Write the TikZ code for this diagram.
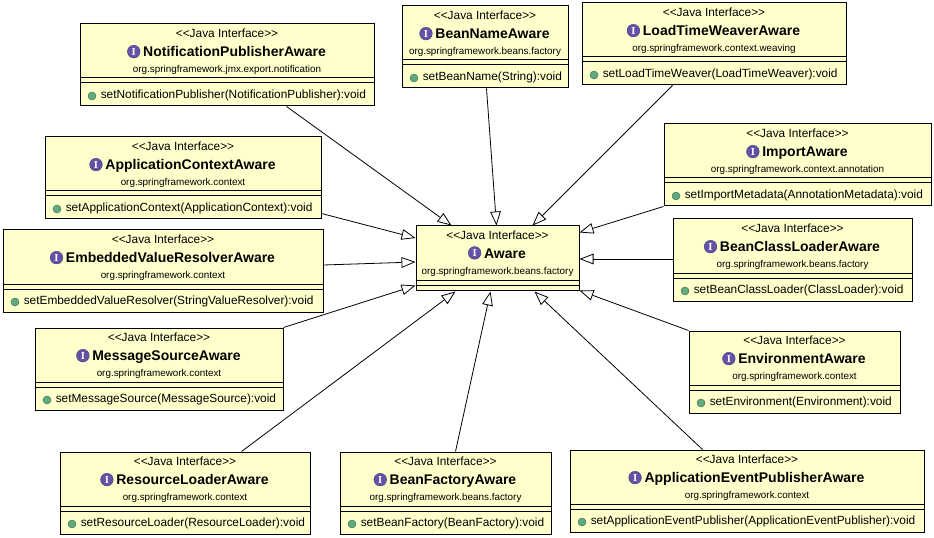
\documentclass[tikz,border=0pt]{standalone}
\usepackage{fontspec}
\setmainfont{Liberation Sans}
\newfontfamily\iconfont{Liberation Serif}
\usetikzlibrary{arrows.meta,shadings}
\definecolor{umlfill}{HTML}{FFFFCC}
\definecolor{ifacecol}{HTML}{6352A8}
\definecolor{methcol}{HTML}{5FAA7E}
\tikzset{
  x=0.75pt,y=-0.75pt,
  umlbody/.style={draw=black,fill=umlfill,line width=0.75pt,inner sep=0pt,rectangle},
  stereo/.style={font=\fontsize{8.9pt}{10pt}\selectfont,inner sep=0pt,anchor=base},
  titletext/.style={font=\fontsize{10.5pt}{12pt}\selectfont\bfseries,inner sep=0pt,anchor=base},
  pkgtext/.style={font=\fontsize{7.4pt}{9pt}\selectfont,inner sep=0pt,anchor=base},
  methtext/.style={font=\fontsize{8.9pt}{10pt}\selectfont,inner sep=0pt,anchor=base west},
  ifaceicon/.style={circle,fill=ifacecol,draw=ifacecol!70!black,line width=0.3pt,minimum size=9.5pt,inner sep=0pt,text=white,font=\iconfont\fontsize{8pt}{9pt}\selectfont\bfseries,anchor=east},
  methicon/.style={circle,fill=methcol,draw=methcol!60!black,line width=0.3pt,minimum size=6pt,inner sep=0pt},
  realize/.style={draw=black,line width=0.6pt,-{Triangle[open,length=10.5pt,width=8pt,fill=white]}}
}
\newcommand{\umlbox}[8]{%
  \pgfmathsetlengthmacro{\bw}{(#4-#2)*0.75pt}%
  \pgfmathsetlengthmacro{\bh}{(#5-#3)*0.75pt}%
  \pgfmathsetmacro{\cx}{(#2+#4)/2}%
  \pgfmathsetmacro{\cy}{(#3+#5)/2}%
  \node[umlbody,minimum width=\bw,minimum height=\bh] (#1) at (\cx,\cy) {};
  \node[stereo] (#1s) at (\cx,#3+13.7) {<{}<Java Interface>{}>};
  \node[titletext] (#1t) at (\cx+7.5,#3+32.7) {#6};
  \node[ifaceicon] (#1i) at ([xshift=-2pt,yshift=3.8pt]#1t.base west) {I};
  \node[pkgtext] (#1p) at (\cx,#3+48.3) {#7};
  \draw[line width=0.75pt] (#2,#3+54) -- (#4,#3+54) (#2,#3+59) -- (#4,#3+59);
  \node[methicon] (#1m) at (#2+12,#3+72) {};
  \node[methtext] (#1f) at (#2+20.5,#3+74.3) {#8};
}
\begin{document}
\begin{tikzpicture}
\useasboundingbox (0,0) rectangle (934,538);
\fill[white] (0,0) rectangle (934,538);
\umlbox{notif}{80}{24}{374}{106}{NotificationPublisherAware}{org.springframework.jmx.export.notification}{setNotificationPublisher(NotificationPublisher):void}
\umlbox{bname}{402}{6}{568}{88}{BeanNameAware}{org.springframework.beans.factory}{setBeanName(String):void}
\umlbox{ltw}{582}{3}{846}{85}{LoadTimeWeaverAware}{org.springframework.context.weaving}{setLoadTimeWeaver(LoadTimeWeaver):void}
\umlbox{imp}{664}{124}{931}{206}{ImportAware}{org.springframework.context.annotation}{setImportMetadata(AnnotationMetadata):void}
\umlbox{bcl}{673}{219}{912}{301}{BeanClassLoaderAware}{org.springframework.beans.factory}{setBeanClassLoader(ClassLoader):void}
\umlbox{env}{689}{331}{900}{413}{EnvironmentAware}{org.springframework.context}{setEnvironment(Environment):void}
\umlbox{aep}{570}{450}{924}{532}{ApplicationEventPublisherAware}{org.springframework.context}{setApplicationEventPublisher(ApplicationEventPublisher):void}
\umlbox{bf}{340}{452}{551}{534}{BeanFactoryAware}{org.springframework.beans.factory}{setBeanFactory(BeanFactory):void}
\umlbox{rl}{60}{452}{310}{534}{ResourceLoaderAware}{org.springframework.context}{setResourceLoader(ResourceLoader):void}
\umlbox{ms}{35}{328}{283}{410}{MessageSourceAware}{org.springframework.context}{setMessageSource(MessageSource):void}
\umlbox{evr}{3}{230}{323}{312}{EmbeddedValueResolverAware}{org.springframework.context}{setEmbeddedValueResolver(StringValueResolver):void}
\umlbox{ac}{45}{137}{321}{219}{ApplicationContextAware}{org.springframework.context}{setApplicationContext(ApplicationContext):void}
% central
\node[umlbody,minimum width=122.25pt,minimum height=48pt] (aware) at (497.5,258) {};
\node[stereo] (awares) at (497.5,239.5) {<{}<Java Interface>{}>};
\node[titletext] (awaret) at (505,258) {Aware};
\node[ifaceicon] (awarei) at ([xshift=-2pt,yshift=3.8pt]awaret.base west) {I};
\node[pkgtext] (awarep) at (497.5,274) {org.springframework.beans.factory};
\draw[line width=0.75pt] (416,280) -- (579,280) (416,285) -- (579,285);
% connectors: shifts in px from box anchors
\newcommand{\conn}[6]{\draw[realize] ([shift={(#2,#3)}]#1) -- ([shift={(#5,#6)}]#4);}
\conn{notif.south west}{207}{0}{aware.north west}{36}{0}
\conn{bname.south west}{85}{0}{aware.north west}{81}{0}
\conn{ltw.south west}{91}{0}{aware.north east}{-47}{0}
\conn{imp.south west}{0}{0}{aware.north east}{0}{7}
\conn{bcl.west}{0}{-1}{aware.east}{0}{1}
\conn{env.north west}{0}{0}{aware.south east}{0}{0}
\conn{aep.north west}{133}{0}{aware.south east}{-45}{1}
\conn{bf.north west}{116}{0}{aware.south west}{75}{1}
\conn{rl.north west}{182}{0}{aware.south west}{40}{1}
\conn{ms.north east}{0}{0}{aware.south west}{0}{-5}
\conn{evr.east}{0}{-6}{aware.west}{0}{4}
\conn{ac.south east}{0}{-6}{aware.west}{0}{-20}
\end{tikzpicture}
\end{document}
